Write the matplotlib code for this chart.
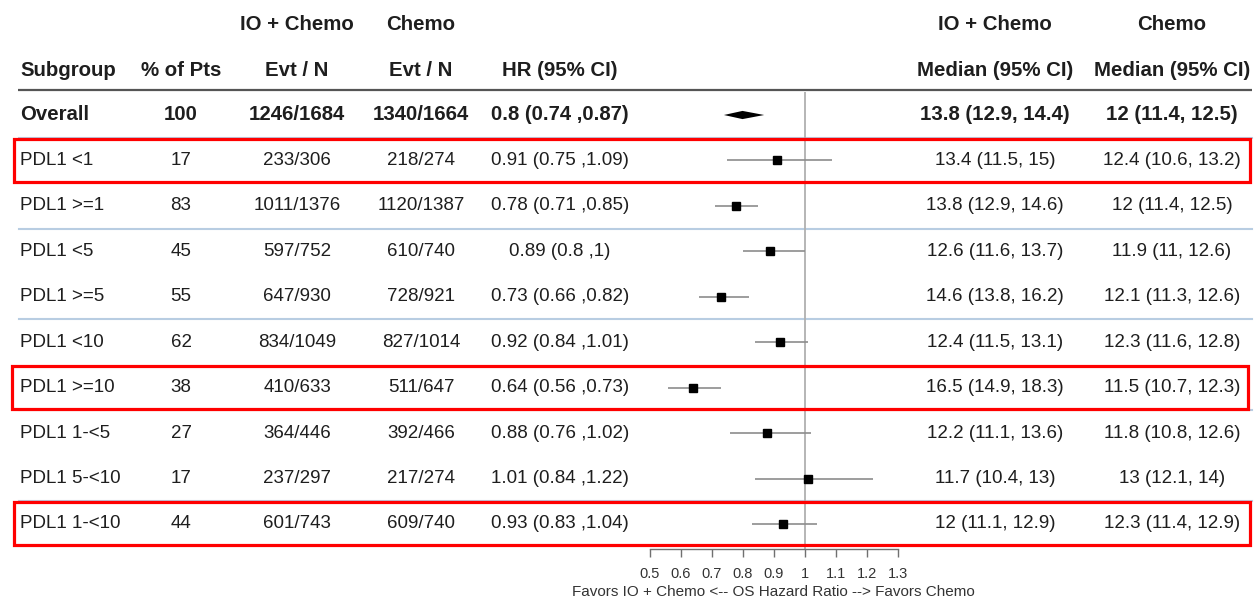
import numpy as np
import matplotlib
matplotlib.use("Agg")
import matplotlib.pyplot as plt
from matplotlib.patches import Rectangle

plt.rcParams['font.family'] = ['Liberation Sans', 'DejaVu Sans']

# subgroup table
subgroups = ["Overall", "PDL1 <1", "PDL1 >=1", "PDL1 <5", "PDL1 >=5", "PDL1 <10",
             "PDL1 >=10", "PDL1 1-<5", "PDL1 5-<10", "PDL1 1-<10"]
pct_pts = [100, 17, 83, 45, 55, 62, 38, 27, 17, 44]
io_evt = ["1246/1684", "233/306", "1011/1376", "597/752", "647/930", "834/1049",
          "410/633", "364/446", "237/297", "601/743"]
chemo_evt = ["1340/1664", "218/274", "1120/1387", "610/740", "728/921", "827/1014",
             "511/647", "392/466", "217/274", "609/740"]
hr = [0.8, 0.91, 0.78, 0.89, 0.73, 0.92, 0.64, 0.88, 1.01, 0.93]
hr_lo = [0.74, 0.75, 0.71, 0.8, 0.66, 0.84, 0.56, 0.76, 0.84, 0.83]
hr_hi = [0.87, 1.09, 0.85, 1.0, 0.82, 1.01, 0.73, 1.02, 1.22, 1.04]
io_median = ["13.8 (12.9, 14.4)", "13.4 (11.5, 15)", "13.8 (12.9, 14.6)", "12.6 (11.6, 13.7)",
             "14.6 (13.8, 16.2)", "12.4 (11.5, 13.1)", "16.5 (14.9, 18.3)", "12.2 (11.1, 13.6)",
             "11.7 (10.4, 13)", "12 (11.1, 12.9)"]
chemo_median = ["12 (11.4, 12.5)", "12.4 (10.6, 13.2)", "12 (11.4, 12.5)", "11.9 (11, 12.6)",
                "12.1 (11.3, 12.6)", "12.3 (11.6, 12.8)", "11.5 (10.7, 12.3)", "11.8 (10.8, 12.6)",
                "13 (12.1, 14)", "12.3 (11.4, 12.9)"]
hr_ticks = [0.5, 0.6, 0.7, 0.8, 0.9, 1, 1.1, 1.2, 1.3]
highlight_rows = [1, 6, 9]

W, H = 1256, 604
fig = plt.figure(figsize=(W / 100, H / 100), dpi=100)

# pixel-space axes for the table text and rules
bg = fig.add_axes([0, 0, 1, 1])
bg.set_xlim(0, W)
bg.set_ylim(H, 0)
bg.axis("off")

row0, row_h = 115, 45.44
def row_y(i):
    return row0 + i * row_h

txt = "#1e1e1e"
fs = 13.5
fs_b = 14.7

# column headers
bg.text(297, 24, "IO + Chemo", ha="center", va="center", fontsize=fs_b, fontweight="bold", color=txt)
bg.text(421, 24, "Chemo", ha="center", va="center", fontsize=fs_b, fontweight="bold", color=txt)
bg.text(995, 24, "IO + Chemo", ha="center", va="center", fontsize=fs_b, fontweight="bold", color=txt)
bg.text(1172, 24, "Chemo", ha="center", va="center", fontsize=fs_b, fontweight="bold", color=txt)

heads = [(20, "Subgroup", "left"), (181, "% of Pts", "center"), (297, "Evt / N", "center"),
         (421, "Evt / N", "center"), (560, "HR (95% CI)", "center"),
         (995, "Median (95% CI)", "center"), (1172, "Median (95% CI)", "center")]
for x, s, ha in heads:
    bg.text(x, 70, s, ha=ha, va="center", fontsize=fs_b, fontweight="bold", color=txt)

bg.plot([18, 1252], [90, 90], color="#555555", lw=1.6, solid_capstyle="butt")

# light separators between row pairs
for i in [0, 2, 4, 6, 8]:
    y = row_y(i) + row_h / 2
    bg.plot([19, 1252], [y, y], color="#b8cde2", lw=1.5)

def fmt(v):
    return f"{v:g}"

for i, name in enumerate(subgroups):
    y = row_y(i)
    fw = "bold" if i == 0 else "normal"
    size = fs_b if i == 0 else fs
    hr_txt = f"{fmt(hr[i])} ({fmt(hr_lo[i])} ,{fmt(hr_hi[i])})"
    cells = [(20, name, "left"), (181, str(pct_pts[i]), "center"), (297, io_evt[i], "center"),
             (421, chemo_evt[i], "center"), (560, hr_txt, "center"),
             (995, io_median[i], "center"), (1172, chemo_median[i], "center")]
    for x, s, ha in cells:
        bg.text(x, y, s, ha=ha, va="center", fontsize=size, fontweight=fw, color=txt)

# forest panel
x0, x1 = 649.5, 897.5
y_top, y_bot = 92, 549
ax = fig.add_axes([x0 / W, 1 - y_bot / H, (x1 - x0) / W, (y_bot - y_top) / H])
ax.patch.set_alpha(0)
ax.set_xlim(0.5, 1.3)
ax.set_ylim((y_bot - row0) / row_h, (y_top - row0) / row_h)
for s in ["top", "right", "left"]:
    ax.spines[s].set_visible(False)
ax.spines["bottom"].set_color("#707070")
ax.spines["bottom"].set_linewidth(1.0)
ax.set_yticks([])
ax.set_xticks(hr_ticks)
ax.set_xticklabels([fmt(t) for t in hr_ticks])
ax.tick_params(axis="x", direction="out", length=6, width=1.0, color="#707070",
               pad=7, labelsize=10.5, labelcolor="#333333")

# axis caption placed under the tick labels
bg.text((x0 + x1) / 2, 592, "Favors IO + Chemo <-- OS Hazard Ratio --> Favors Chemo",
        ha="center", va="center", fontsize=11, color="#333333")

ax.axvline(1, color="#b0b0b0", lw=1.3, zorder=1)

rows = np.arange(len(subgroups))
# overall estimate as a diamond
dh = 0.09
ax.fill([hr_lo[0], hr[0], hr_hi[0], hr[0]], [rows[0], rows[0] - dh, rows[0], rows[0] + dh],
        color="black", lw=0, zorder=3)
ax.hlines(rows[1:], hr_lo[1:], hr_hi[1:], color="#8c8c8c", lw=1.2, zorder=2, clip_on=False)
ax.plot(hr[1:], rows[1:], "s", color="black", ms=6, zorder=3, clip_on=False)

# red boxes around highlighted subgroups
for i in highlight_rows:
    y = row_y(i)
    xl = 12 if i == 6 else 14
    fig.add_artist(Rectangle((xl, y - 21.5), 1236, 43, transform=bg.transData,
                             fill=False, edgecolor="#ff0000", lw=2.3, zorder=5))

fig.savefig("out.png", dpi=100)
